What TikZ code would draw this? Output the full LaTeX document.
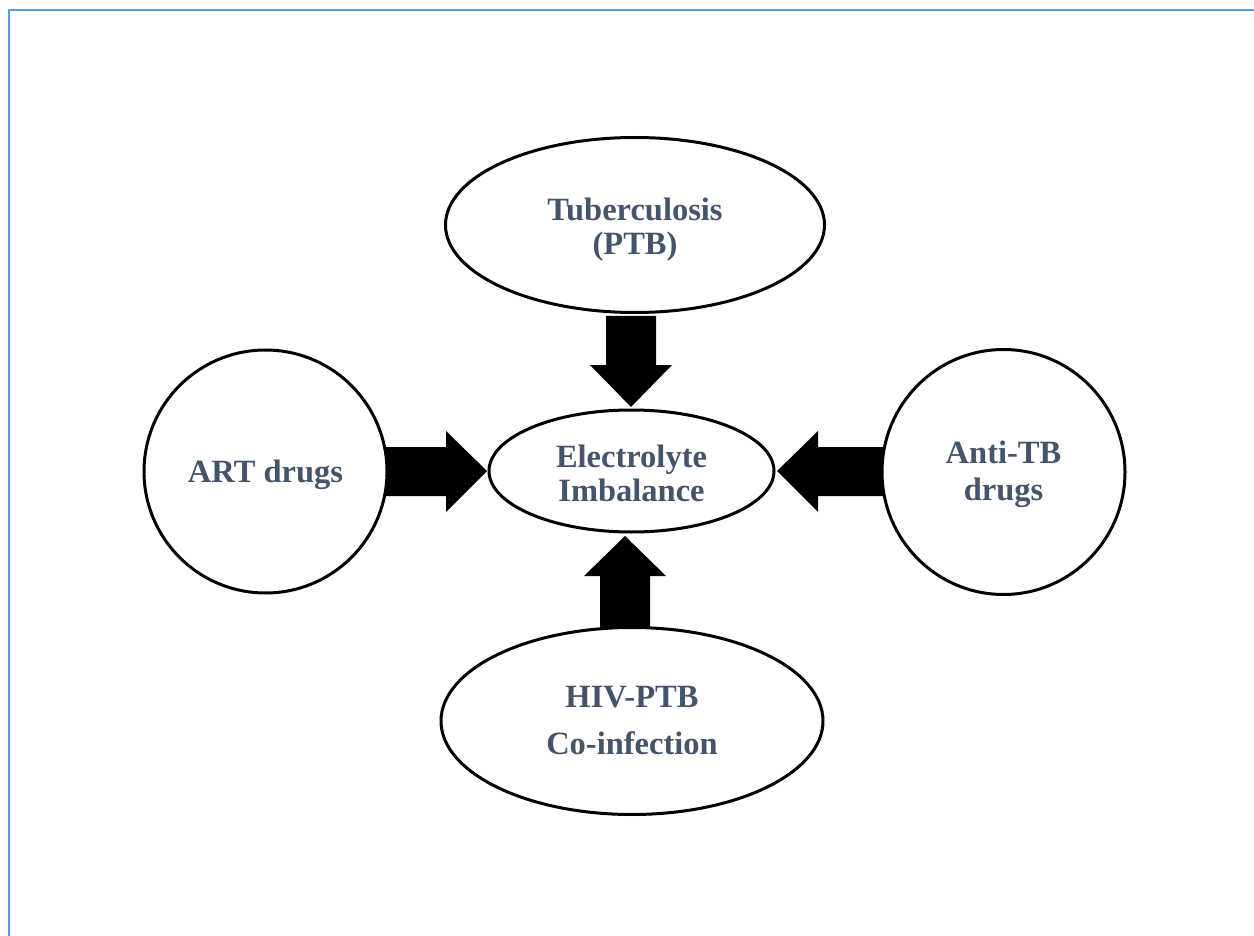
\documentclass[tikz,border=0pt]{standalone}
\usepackage{fontspec}
\setmainfont{Liberation Serif}
\usetikzlibrary{shapes.geometric}
\definecolor{frameblue}{HTML}{5B9BD5}
\definecolor{slate}{HTML}{44546A}
\tikzset{
  oval/.style={ellipse, draw=black, line width=3pt, fill=white, inner sep=0pt},
  ovaltext/.style={text=slate, font=\fontsize{32.5}{34}\selectfont\bfseries, align=center, inner sep=0pt},
  blockarrow/.style={fill=black},
  frameline/.style={draw=frameblue, line width=2.5pt}
}
\begin{document}
\begin{tikzpicture}[x=1pt,y=-1pt]
\useasboundingbox (0,0) rectangle (1254,936);
\draw[frameline] (9,936) -- (9,10) -- (1254,10);
% arrows (drawn first, behind the ovals)
\fill[blockarrow] (631,407) -- (672,365) -- (656,365) -- (656,316) -- (606,316) -- (606,365) -- (590,365) -- cycle;
\fill[blockarrow] (487,471) -- (446,431) -- (446,447) -- (384,447) -- (384,496) -- (446,496) -- (446,512) -- cycle;
\fill[blockarrow] (777,471) -- (818,431) -- (818,447) -- (885,447) -- (885,496) -- (818,496) -- (818,512) -- cycle;
\fill[blockarrow] (625,536) -- (666,576) -- (650,576) -- (650,630) -- (600,630) -- (600,576) -- (584,576) -- cycle;
% ovals
\node[oval, minimum width=379pt, minimum height=175pt] (tb) at (635,225) {};
\node[oval, minimum width=285pt, minimum height=122pt] (ei) at (631.5,471) {};
\node[oval, minimum width=243pt, minimum height=243pt] (art) at (265.5,471.5) {};
\node[oval, minimum width=243pt, minimum height=245pt] (atb) at (1003.5,472) {};
\node[oval, minimum width=382pt, minimum height=187pt] (hiv) at (632,721) {};
% texts
\node[ovaltext] (tbt) at ([yshift=-5pt]tb.center) {Tuberculosis\\(PTB)};
\node[ovaltext] (eit) at ([yshift=-2pt]ei.center) {Electrolyte\\Imbalance};
\node[ovaltext] (artt) at ([yshift=-3pt]art.center) {ART drugs};
\node[ovaltext] (atbt) at ([yshift=-2pt]atb.center) {Anti-TB\\[3pt]drugs};
\node[ovaltext] (hivt) at (hiv.center) {HIV-PTB\\[13pt]Co-infection};
\end{tikzpicture}
\end{document}
